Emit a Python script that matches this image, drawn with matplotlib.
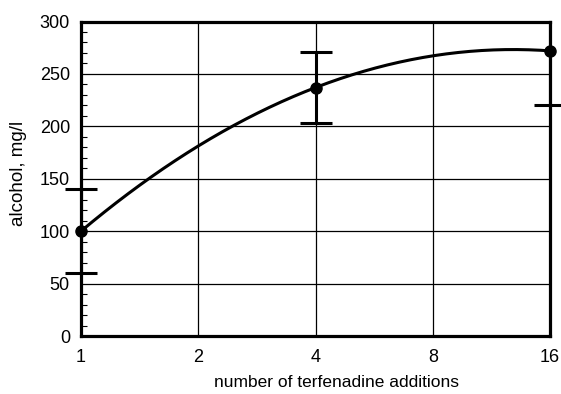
import numpy as np
import matplotlib
matplotlib.use("Agg")
import matplotlib.pyplot as plt
from matplotlib.ticker import FixedLocator, MultipleLocator

plt.rcParams['font.family'] = ['Liberation Sans', 'DejaVu Sans']

# Measured alcohol concentration vs. number of terfenadine additions
additions = [1, 4, 16]
alcohol = [100, 237, 272]
err_low = [60, 203, 220]
err_high = [140, 271, 324]

x_ticks = [1, 2, 4, 8, 16]
x_tick_labels = ["1", "2", "4", "8", "16"]
y_ticks = [0, 50, 100, 150, 200, 250, 300]

fig = plt.figure(figsize=(5.61, 3.94), dpi=100)
ax = fig.add_axes([0.1444, 0.1472, 0.9804 - 0.1444, 0.9454 - 0.1472])

ax.set_xscale('log', base=2)
ax.set_xlim(1, 16)
ax.set_ylim(0, 300)

# grid
ax.set_xticks(x_ticks)
ax.set_xticklabels(x_tick_labels)
ax.xaxis.set_minor_locator(FixedLocator([]))
ax.set_yticks(y_ticks)
ax.yaxis.set_minor_locator(MultipleLocator(10))
ax.grid(True, which='major', color='black', linewidth=0.9)
ax.set_axisbelow(True)

ax.tick_params(axis='both', which='major', direction='in', length=0, labelsize=13)
ax.tick_params(axis='x', which='major', pad=9)
ax.tick_params(axis='y', which='major', pad=8)
ax.tick_params(axis='y', which='minor', direction='in', length=4, width=0.8, left=True, right=False)
ax.tick_params(axis='x', which='minor', length=0)
for s in ax.spines.values():
    s.set_linewidth(2.3)

# fitted trend: quadratic in log2(additions)
u = np.log2(additions)
coef = np.polyfit(u, alcohol, 2)
uu = np.linspace(0, 4, 200)
ax.plot(2 ** uu, np.polyval(coef, uu), color='black', linewidth=2.2, zorder=3)

# error bars
ax.vlines(additions, err_low, err_high, colors='black', linewidth=2.2, zorder=3)
caps_x = list(additions) + list(additions)
caps_y = err_low + err_high
vis = [(cx, cy) for cx, cy in zip(caps_x, caps_y) if 0 <= cy <= 300]
ax.plot([v[0] for v in vis], [v[1] for v in vis], linestyle='none', marker='_',
        markersize=23, markeredgewidth=2.2, color='black', clip_on=False, zorder=4)

# data points
ax.plot(additions, alcohol, 'o', color='black', markersize=8, clip_on=False, zorder=5)

ax.set_xlabel('number of terfenadine additions', fontsize=12.5)
ax.xaxis.set_label_coords(0.545, -0.149)
ax.xaxis.label.set_verticalalignment('center')
ax.set_ylabel('alcohol, mg/l', fontsize=13.5)
ax.yaxis.set_label_coords(-0.134, 0.517)
ax.yaxis.label.set_verticalalignment('center')

fig.savefig('out.png', dpi=100)
